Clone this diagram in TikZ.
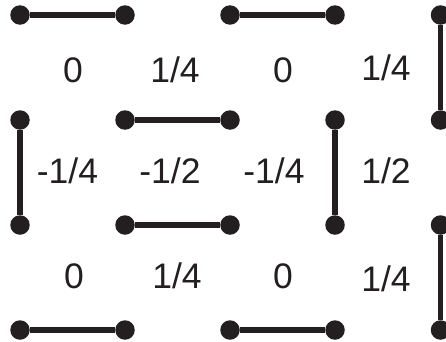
\documentclass[tikz,border=0pt]{standalone}
\usepackage{fontspec}
\setmainfont{Liberation Sans}
\definecolor{ink}{HTML}{231F20}
\begin{document}
\begin{tikzpicture}[x=1pt,y=1pt,
  dot/.style={circle,fill=ink,inner sep=0pt,minimum size=19.5pt},
  dimer/.style={draw=ink,line width=5.5pt},
  lab/.style={anchor=base,inner sep=0pt,text=ink,font=\fontsize{35.5}{42}\selectfont}]
\useasboundingbox (0,0) rectangle (446,341);
% dots (y flipped: 341 - y)
\node[dot] (a1) at (20,326) {};
\node[dot] (a2) at (125,326) {};
\node[dot] (a3) at (230,326) {};
\node[dot] (a4) at (335,326) {};
\node[dot] (a5) at (440.5,326) {};
\node[dot] (b1) at (20,221) {};
\node[dot] (b2) at (125,221) {};
\node[dot] (b3) at (230,221) {};
\node[dot] (b4) at (335,221) {};
\node[dot] (b5) at (440.5,221) {};
\node[dot] (c1) at (20,116) {};
\node[dot] (c2) at (125,116) {};
\node[dot] (c3) at (230,116) {};
\node[dot] (c4) at (335,116) {};
\node[dot] (c5) at (440.5,116) {};
\node[dot] (d1) at (20,11) {};
\node[dot] (d2) at (125,11) {};
\node[dot] (d3) at (230,11) {};
\node[dot] (d4) at (335,11) {};
\node[dot] (d5) at (440.5,11) {};
% dimers
\draw[dimer] (a1) -- (a2);
\draw[dimer] (a3) -- (a4);
\draw[dimer] (a5) -- (b5);
\draw[dimer] (b1) -- (c1);
\draw[dimer] (b2) -- (b3);
\draw[dimer] (c2) -- (c3);
\draw[dimer] (b4) -- (c4);
\draw[dimer] (c5) -- (d5);
\draw[dimer] (d1) -- (d2);
\draw[dimer] (d3) -- (d4);
% labels
\node[lab] (l11) at (73,258.5) {0};
\node[lab] (l12) at (175,258.5) {1/4};
\node[lab] (l13) at (283,258.5) {0};
\node[lab] (l14) at (386,261) {1/4};
\node[lab] (l21) at (67.5,158) {-1/4};
\node[lab] (l22) at (170,158) {-1/2};
\node[lab] (l23) at (274,158) {-1/4};
\node[lab] (l24) at (386,158) {1/2};
\node[lab] (l31) at (74,53) {0};
\node[lab] (l32) at (177,53) {1/4};
\node[lab] (l33) at (283,53) {0};
\node[lab] (l34) at (386,50) {1/4};
\end{tikzpicture}
\end{document}
